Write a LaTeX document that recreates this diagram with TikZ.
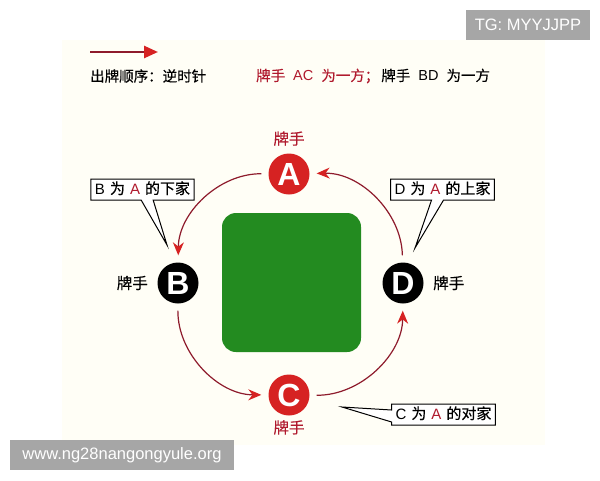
\documentclass[tikz,border=0pt]{standalone}
\usepackage{fontspec}
\setmainfont{Noto Sans CJK SC}[FakeBold=0.4]
\newfontfamily\latinfont{Liberation Sans}
\usetikzlibrary{arrows.meta,positioning,shapes.callouts}
\definecolor{cardred}{HTML}{D62222}
\definecolor{textred}{HTML}{B01A2E}
\definecolor{arcred}{HTML}{8E1B2C}
\definecolor{tablegreen}{HTML}{238B20}
\definecolor{tagray}{HTML}{A6A6A6}
\definecolor{paper}{HTML}{FFFEF6}
\newcommand{\wgap}{\hspace{8pt}}
\newcommand{\ngap}{\hspace{5pt}}
\newcommand{\lat}[1]{{\latinfont #1}}

\begin{document}
\begin{tikzpicture}[x=1pt,y=-1pt,
   seat/.style={circle,minimum size=41pt,inner sep=0pt,text=white,
      font=\latinfont\bfseries\fontsize{32}{32}\selectfont},
   redseat/.style={seat,fill=cardred},
   blackseat/.style={seat,fill=black},
   player/.style={font=\fontsize{15.5}{16}\selectfont},
   turn/.style={draw=arcred,line width=1.2pt,shorten <=7pt,shorten >=7pt,
      -{Stealth[length=13pt,width=11pt,color=cardred]}},
   note/.style={rectangle callout,draw,line width=1pt,fill=white,
      callout pointer width=12pt,inner xsep=4pt,inner ysep=3pt,
      text height=12pt,text depth=3pt,font=\fontsize{15}{16}\selectfont},
   tagbox/.style={fill=tagray,text=white,inner sep=0pt,
      font=\latinfont\fontsize{16.5}{18}\selectfont}]
\useasboundingbox (0,0) rectangle (600,480);
\fill[paper] (62,40) rectangle (545,445);

% legend
\coordinate (leg start) at (90,52);
\coordinate (leg end) at (158,52);
\draw[draw=arcred,line width=2.5pt,-{Triangle[length=14pt,width=12pt,color=cardred]}] (leg start) -- (leg end);
\node[anchor=west,font=\fontsize{14.5}{16}\selectfont,inner sep=0pt] (order) at (90,76) {出牌顺序：逆时针};
\node[anchor=west,font=\fontsize{14.5}{16}\selectfont,inner sep=0pt] (sides) at (256,76)
   {\textcolor{textred}{牌手\wgap\lat{AC}\wgap 为一方；}\hspace{2pt}牌手\wgap\lat{BD}\wgap 为一方};

% table and seats
\node[fill=tablegreen,rounded corners=14pt,minimum width=139pt,minimum height=139pt] (table) at (291.5,282.5) {};
\node[redseat] (A) at (289,174) {A};
\node[blackseat] (B) at (178,283) {B};
\node[redseat] (C) at (289,395) {C};
\node[blackseat] (D) at (403,283) {D};
\node[player,text=textred,above=4pt of A] (A label) {牌手};
\node[player,left=6pt of B] (B label) {牌手};
\node[player,text=textred,below=1pt of C] (C label) {牌手};
\node[player,right=6pt of D] (D label) {牌手};

% turn order
\draw[turn] (A) to[bend right=45] (B);
\draw[turn] (B) to[bend right=45] (C);
\draw[turn] (C) to[bend right=45] (D);
\draw[turn] (D) to[bend right=45] (A);

% notes
\coordinate (B tip) at (167,245);
\coordinate (D tip) at (415,248);
\coordinate (C tip) at (342,407);
\node[note,callout absolute pointer={(B tip)}] (B note) at (142.5,189.5)
   {\lat{B}\ngap 为\ngap\textcolor{textred}{\lat{A}}\ngap 的下家};
\node[note,callout absolute pointer={(D tip)}] (D note) at (442.5,189.5)
   {\lat{D}\ngap 为\ngap\textcolor{textred}{\lat{A}}\ngap 的上家};
\node[note,callout absolute pointer={(C tip)}] (C note) at (443.5,414.5)
   {\lat{C}\ngap 为\ngap\textcolor{textred}{\lat{A}}\ngap 的对家};

% watermarks
\node[tagbox,minimum width=124pt,minimum height=30pt] (tg) at (528,25) {TG: MYYJJPP};
\node[tagbox,minimum width=224pt,minimum height=30pt] (site) at (122,455) {www.ng28nangongyule.org};
\end{tikzpicture}
\end{document}
